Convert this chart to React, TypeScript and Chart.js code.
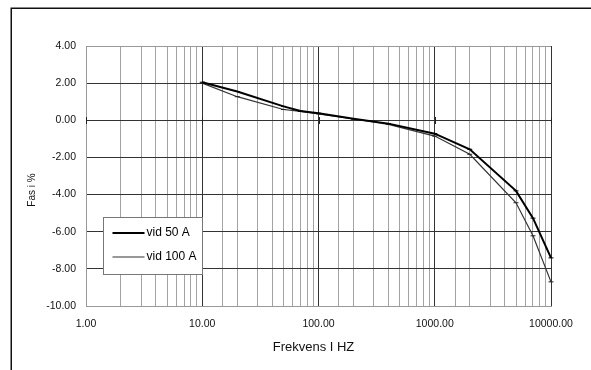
import React, { useEffect, useRef } from "react";
import { Chart, registerables } from "chart.js";

Chart.register(...registerables);

const frequencies = [10, 20, 50, 70, 100, 200, 400, 1000, 2000, 5000, 7000, 10000];
const phase50A = [2.05, 1.55, 0.75, 0.5, 0.38, 0.08, -0.18, -0.72, -1.56, -3.8, -5.27, -7.41];
const phase100A = [2.0, 1.27, 0.58, 0.48, 0.35, 0.07, -0.22, -0.85, -1.83, -4.44, -6.22, -8.7];
const seriesNames = ["vid 50 A", "vid 100 A"];
const xTitle = "Frekvens I HZ";
const yTitle = "Fas i %";
const xMin = 1;
const xMax = 10000;
const yMin = -10;
const yMax = 4;
const yStep = 2;

const FONT = '"Liberation Sans", Arial, sans-serif';

const isDecade = (v: number) => {
  const l = Math.log10(v);
  return Math.abs(l - Math.round(l)) < 1e-9;
};

const decorPlugin = {
  id: "decor",
  afterDraw(chart: any) {
    const ctx = chart.ctx as CanvasRenderingContext2D;
    const area = chart.chartArea;
    const xs = chart.scales.x;
    const ys = chart.scales.y;
    ctx.save();

    // outer frame (left + top)
    ctx.strokeStyle = "#111";
    ctx.lineWidth = 1.5;
    ctx.beginPath();
    ctx.moveTo(11.25, 370);
    ctx.lineTo(11.25, 8.25);
    ctx.lineTo(591, 8.25);
    ctx.stroke();

    // small ticks on the zero line at each decade
    const y0 = Math.round(ys.getPixelForValue(0)) + 0.5;
    ctx.strokeStyle = "#222";
    ctx.lineWidth = 1;
    for (let d = xMin; d <= xMax; d *= 10) {
      const x = Math.round(xs.getPixelForValue(d)) + 0.5;
      ctx.beginPath();
      ctx.moveTo(x, y0 - 3.5);
      ctx.lineTo(x, y0 + 3.5);
      ctx.stroke();
    }

    // axis titles
    ctx.fillStyle = "#111";
    ctx.font = `13px ${FONT}`;
    ctx.textAlign = "center";
    ctx.textBaseline = "middle";
    ctx.fillText(xTitle, (area.left + area.right) / 2 - 5, 347);

    ctx.save();
    ctx.translate(32, 190);
    ctx.rotate(-Math.PI / 2);
    ctx.font = `10px ${FONT}`;
    ctx.fillText(yTitle, 0, 0);
    ctx.restore();

    // legend box
    const bx = area.left + 17.5;
    const by = area.top + 171.5;
    const bw = 99;
    const bh = 57;
    ctx.fillStyle = "#fff";
    ctx.fillRect(bx, by, bw, bh);
    ctx.strokeStyle = "#777";
    ctx.lineWidth = 1;
    ctx.strokeRect(bx, by, bw, bh);

    chart.data.datasets.forEach((ds: any, i: number) => {
      const ly = by + 15.5 + i * 24;
      ctx.strokeStyle = ds.borderColor;
      ctx.lineWidth = ds.borderWidth;
      ctx.beginPath();
      ctx.moveTo(bx + 9, ly);
      ctx.lineTo(bx + 41, ly);
      ctx.stroke();
      ctx.fillStyle = "#000";
      ctx.font = `12px ${FONT}`;
      ctx.textAlign = "left";
      ctx.textBaseline = "middle";
      ctx.fillText(ds.label, bx + 43, ly);
    });

    ctx.restore();
  },
};

export default function App() {
  const canvasRef = useRef<HTMLCanvasElement | null>(null);

  useEffect(() => {
    if (!canvasRef.current) return;
    const chart = new Chart(canvasRef.current, {
      type: "line",
      data: {
        datasets: [
          {
            label: seriesNames[0],
            data: frequencies.map((f, i) => ({ x: f, y: phase50A[i] })),
            borderColor: "#000",
            borderWidth: 2,
            pointStyle: "line",
            pointRadius: 2.5,
            pointBorderWidth: 1,
            pointBorderColor: "#000",
            tension: 0,
            clip: false,
          },
          {
            label: seriesNames[1],
            data: frequencies.map((f, i) => ({ x: f, y: phase100A[i] })),
            borderColor: "#333",
            borderWidth: 1.2,
            pointStyle: "line",
            pointRadius: 2.5,
            pointBorderWidth: 1,
            pointBorderColor: "#222",
            tension: 0,
            clip: false,
          },
        ],
      },
      options: {
        animation: false,
        responsive: false,
        devicePixelRatio: 1,
        layout: { padding: { left: 0, right: 40, top: 46, bottom: 0 } },
        plugins: {
          legend: { display: false },
          tooltip: { enabled: false },
        },
        scales: {
          x: {
            type: "logarithmic",
            min: xMin,
            max: xMax,
            afterFit: (s: any) => {
              s.height = 64;
            },
            grid: {
              drawTicks: false,
              lineWidth: 1,
              color: (c: any) => (c.tick && isDecade(c.tick.value) ? "#333" : "#a3a3a3"),
            },
            border: { display: true, color: "#999" },
            ticks: {
              autoSkip: false,
              maxRotation: 0,
              padding: 12,
              color: "#111",
              font: { family: FONT, size: 10.5 },
              callback: (v: any) => (isDecade(Number(v)) ? Number(v).toFixed(2) : ""),
            },
          },
          y: {
            min: yMin,
            max: yMax,
            afterFit: (s: any) => {
              s.width = 86;
            },
            grid: {
              drawTicks: false,
              lineWidth: 1,
              color: (c: any) =>
                c.tick && (c.tick.value === yMax || c.tick.value === yMin) ? "#999" : "#333",
            },
            border: { display: true, color: "#999" },
            ticks: {
              stepSize: yStep,
              padding: 10,
              color: "#111",
              font: { family: FONT, size: 10.5 },
              callback: (v: any) => Number(v).toFixed(2),
            },
          },
        },
      },
      plugins: [decorPlugin],
    } as any);
    return () => chart.destroy();
  }, []);

  return (
    <div style={{ position: "fixed", left: 0, top: 0, width: 591, height: 370, background: "#fff" }}>
      <canvas ref={canvasRef} width={591} height={370} style={{ display: "block" }} />
    </div>
  );
}
